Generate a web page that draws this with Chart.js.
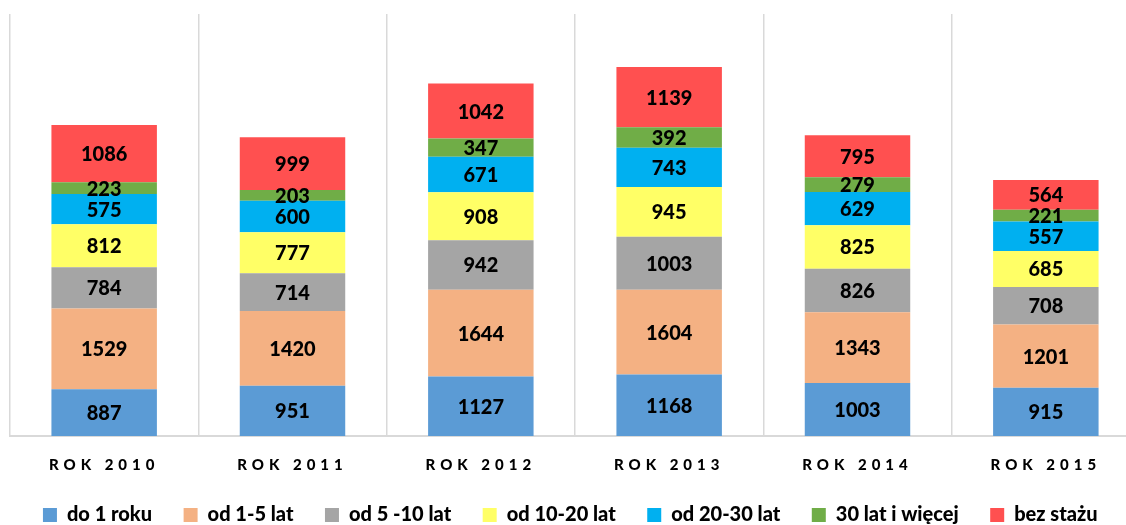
<!DOCTYPE html>
<html>
<head>
<meta charset="utf-8">
<script src="https://cdn.jsdelivr.net/npm/chart.js@4.4.1/dist/chart.umd.min.js"></script>
<style>
  html, body { margin: 0; padding: 0; background: #fff; overflow: hidden; }
  #wrap { position: relative; width: 1126px; height: 525px; overflow: hidden; }
  #box { position: absolute; left: 0; top: 0; width: 1150px; height: 525px; }
</style>
</head>
<body>
<div id="wrap"><div id="box"><canvas id="stazChart"></canvas></div></div>
<script>
const years = ['ROK 2010', 'ROK 2011', 'ROK 2012', 'ROK 2013', 'ROK 2014', 'ROK 2015'];
const do1Roku = [887, 951, 1127, 1168, 1003, 915];
const od1do5 = [1529, 1420, 1644, 1604, 1343, 1201];
const od5do10 = [784, 714, 942, 1003, 826, 708];
const od10do20 = [812, 777, 908, 945, 825, 685];
const od20do30 = [575, 600, 671, 743, 629, 557];
const ponad30 = [223, 203, 347, 392, 279, 221];
const bezStazu = [1086, 999, 1042, 1139, 795, 564];

const seriesNames = ['do 1 roku', 'od 1-5 lat', 'od 5 -10 lat', 'od 10-20 lat', 'od 20-30 lat', '30 lat i więcej', 'bez stażu'];
const seriesData = [do1Roku, od1do5, od5do10, od10do20, od20do30, ponad30, bezStazu];
const colors = ['#5B9BD5', '#F4B183', '#A5A5A5', '#FFFF66', '#00B0F0', '#70AD47', '#FF5050'];

const fontFamily = 'Lato, "Open Sans", sans-serif';

// value labels in the middle of each segment, then letter spacing for the year ticks
const segmentLabels = {
    id: 'segmentLabels',
    afterDatasetsDraw(chart) {
        const ctx = chart.ctx;
        ctx.save();
        ctx.font = '900 20px ' + fontFamily;
        ctx.fillStyle = '#000';
        ctx.textAlign = 'center';
        ctx.textBaseline = 'middle';
        chart.data.datasets.forEach((ds, i) => {
            chart.getDatasetMeta(i).data.forEach((bar, j) => {
                const p = bar.getProps(['x', 'y', 'base'], true);
                ctx.fillText(ds.data[j], p.x, (p.y + p.base) / 2 + 1);
            });
        });
        ctx.restore();
        ctx.letterSpacing = '5px';
    },
    afterDraw(chart) {
        chart.ctx.letterSpacing = '0px';
    }
};

new Chart(document.getElementById('stazChart').getContext('2d'), {
    type: 'bar',
    data: {
        labels: years,
        datasets: seriesNames.map((name, i) => ({
            label: name,
            data: seriesData[i],
            backgroundColor: colors[i],
            barPercentage: 0.56,
            categoryPercentage: 1
        }))
    },
    options: {
        responsive: true,
        maintainAspectRatio: false,
        animation: false,
        layout: { padding: { left: 10, right: 10, top: 14, bottom: -10 } },
        scales: {
            x: {
                stacked: true,
                grid: { color: '#d9d9d9', lineWidth: 1.5, drawTicks: false, offset: true },
                border: { color: '#d9d9d9', width: 2 },
                ticks: {
                    z: 1,
                    padding: 20,
                    color: '#000',
                    font: { family: fontFamily, weight: '900', size: 15 }
                },
                afterFit: function(scale) { scale.height = 47; }
            },
            y: {
                stacked: true,
                display: false,
                min: 0,
                max: 8000
            }
        },
        plugins: {
            legend: {
                position: 'bottom',
                labels: {
                    boxWidth: 14,
                    boxHeight: 14,
                    padding: 22,
                    color: '#000',
                    font: { family: fontFamily, weight: '900', size: 20 },
                    generateLabels: function(chart) {
                        // wider gaps between items, like the original legend
                        return Chart.defaults.plugins.legend.labels.generateLabels(chart).map(l => {
                            l.text = l.text + '  ';
                            return l;
                        });
                    }
                }
            },
            tooltip: { enabled: false }
        }
    },
    plugins: [segmentLabels]
});
</script>
</body>
</html>
